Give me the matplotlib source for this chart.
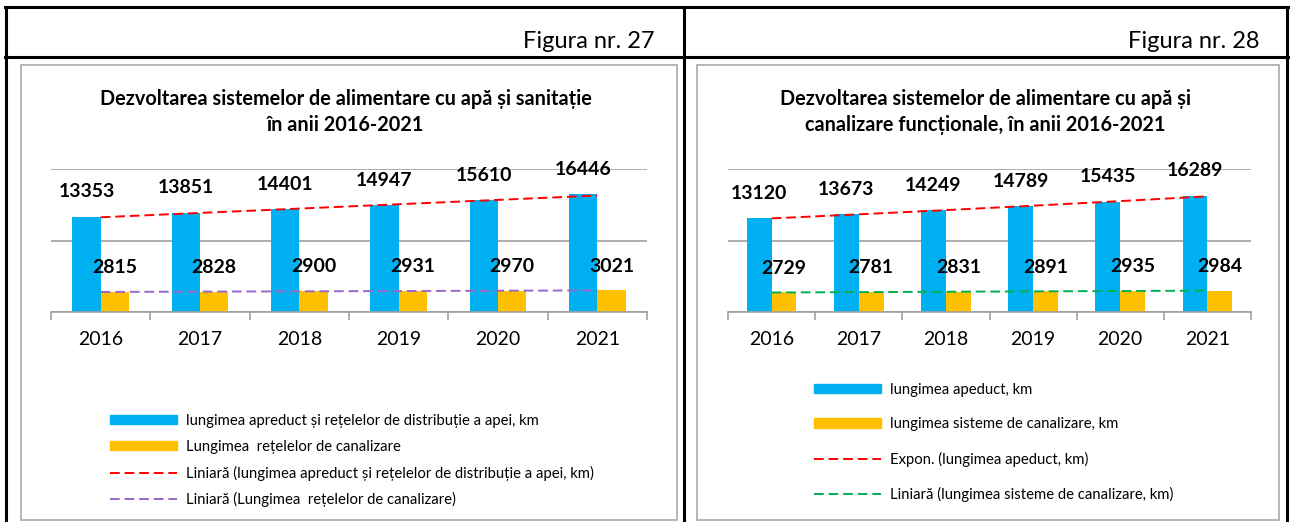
import numpy as np
import matplotlib
matplotlib.use("Agg")
import matplotlib.pyplot as plt
from matplotlib.lines import Line2D
from matplotlib.patches import Rectangle, Patch

plt.rcParams['font.family'] = ['Lato', 'DejaVu Sans']

years = ["2016", "2017", "2018", "2019", "2020", "2021"]

# Figura nr. 27
apeduct_27 = [13353, 13851, 14401, 14947, 15610, 16446]
canal_27 = [2815, 2828, 2900, 2931, 2970, 3021]
title_27 = "Dezvoltarea sistemelor de alimentare cu apă și sanitație\nîn anii 2016-2021"
labels_27 = ["lungimea apreduct și rețelelor de distribuție a apei, km",
             "Lungimea  rețelelor de canalizare",
             "Liniară (lungimea apreduct și rețelelor de distribuție a apei, km)",
             "Liniară (Lungimea  rețelelor de canalizare)"]

# Figura nr. 28
apeduct_28 = [13120, 13673, 14249, 14789, 15435, 16289]
canal_28 = [2729, 2781, 2831, 2891, 2935, 2984]
title_28 = "Dezvoltarea sistemelor de alimentare cu apă și\ncanalizare funcționale, în anii 2016-2021"
labels_28 = ["lungimea apeduct, km",
             "lungimea sisteme de canalizare, km",
             "Expon. (lungimea apeduct, km)",
             "Liniară (lungimea sisteme de canalizare, km)"]

BLUE = "#00B0F0"
YELLOW = "#FFC000"
GRID = "#A0A0A0"

W, H = 1293, 522
fig = plt.figure(figsize=(W / 100, H / 100), dpi=100)


def fx(x):
    return x / W


def fy(y):
    return 1 - y / H


def hline(x0, x1, y, **kw):
    fig.add_artist(Line2D([fx(x0), fx(x1)], [fy(y), fy(y)], transform=fig.transFigure, **kw))


def vline(x, y0, y1, **kw):
    fig.add_artist(Line2D([fx(x), fx(x)], [fy(y0), fy(y1)], transform=fig.transFigure, **kw))


# outer table
hline(5, 1288, 7, color="black", lw=2.2)
hline(5, 1288, 57, color="black", lw=2.2)
for xv in (6, 684, 1287):
    vline(xv, 7, 523, color="black", lw=2.2)

fig.text(fx(655), fy(42), "Figura nr. 27", ha="right", va="center", fontsize=17)
fig.text(fx(1260), fy(42), "Figura nr. 28", ha="right", va="center", fontsize=17)


def chart(frame, axbox, title, blue, yellow, labels, red_kind, trend2_color, leg_xy, leg_spacing):
    fl, fr, ft, fb = frame
    fig.add_artist(Rectangle((fx(fl), fy(fb)), fx(fr) - fx(fl), fy(ft) - fy(fb),
                             transform=fig.transFigure, fill=False, ec="#B0B0B0", lw=1.3))
    fig.text(fx((fl + fr) / 2 - 3), fy(112), title, ha="center", va="center",
             fontsize=14.3, fontweight="bold", linespacing=1.35)

    al, ar, at, ab = axbox
    ax = fig.add_axes([fx(al), fy(ab), fx(ar) - fx(al), fy(at) - fy(ab)])
    x = np.arange(len(years))
    w = 0.285
    ax.bar(x - w / 2, blue, w, color=BLUE, zorder=2)
    ax.bar(x + w / 2, yellow, w, color=YELLOW, zorder=2)

    # trendlines
    if red_kind == "exp":
        k, c = np.polyfit(x, np.log(blue), 1)
        red_y = np.exp(c + k * x)
    else:
        k, c = np.polyfit(x, blue, 1)
        red_y = c + k * x
    k2, c2 = np.polyfit(x, yellow, 1)
    t1, = ax.plot(x, red_y, color="#FF0000", lw=1.4, dashes=(5, 2.5), zorder=3)
    t2, = ax.plot(x, c2 + k2 * x, color=trend2_color, lw=1.4, dashes=(5, 2.5), zorder=3)

    for xi, v in zip(x, blue):
        ax.annotate(str(v), (xi - w / 2, v), xytext=(0, 18), textcoords="offset points",
                    ha="center", va="center", fontsize=14, fontweight="bold")
    for xi, v in zip(x, yellow):
        ax.annotate(str(v), (xi + w / 2, v), xytext=(0, 17.5), textcoords="offset points",
                    ha="center", va="center", fontsize=14, fontweight="bold")

    ax.set_xlim(-0.5, len(years) - 0.5)
    ax.set_ylim(0, 20000)
    ax.set_yticks([0, 10000, 20000])
    ax.yaxis.grid(True, color=GRID, lw=1.2)
    ax.set_axisbelow(True)
    ax.tick_params(axis="y", left=False, labelleft=False)
    ax.set_xticks(x)
    ax.set_xticklabels(years, fontsize=14)
    ax.set_xticks(np.arange(-0.5, len(years)), minor=True)
    ax.tick_params(axis="x", which="major", length=0, pad=14)
    ax.tick_params(axis="x", which="minor", length=6, width=1.2, color=GRID, direction="out")
    for s in ("top", "left", "right"):
        ax.spines[s].set_visible(False)
    ax.spines["bottom"].set_color(GRID)
    ax.spines["bottom"].set_linewidth(1.2)
    ax.patch.set_alpha(0)

    handles = [Patch(color=BLUE), Patch(color=YELLOW), t1, t2]
    fig.legend(handles, labels, loc="upper left",
               bbox_to_anchor=(fx(leg_xy[0]), fy(leg_xy[1])), frameon=False,
               fontsize=10.7, handlelength=4.5, handleheight=0.6, handletextpad=0.6,
               labelspacing=leg_spacing, borderpad=0, borderaxespad=0)
    return ax


chart((21, 677, 65, 520), (51, 647, 169, 312), title_27, apeduct_27, canal_27,
      labels_27, "lin", "#9966CC", (110, 414), 0.79)
chart((697, 1279, 65, 520), (728, 1251, 169, 312), title_28, apeduct_28, canal_28,
      labels_28, "exp", "#00B050", (814, 383), 1.37)

fig.savefig("out.png", dpi=100)
